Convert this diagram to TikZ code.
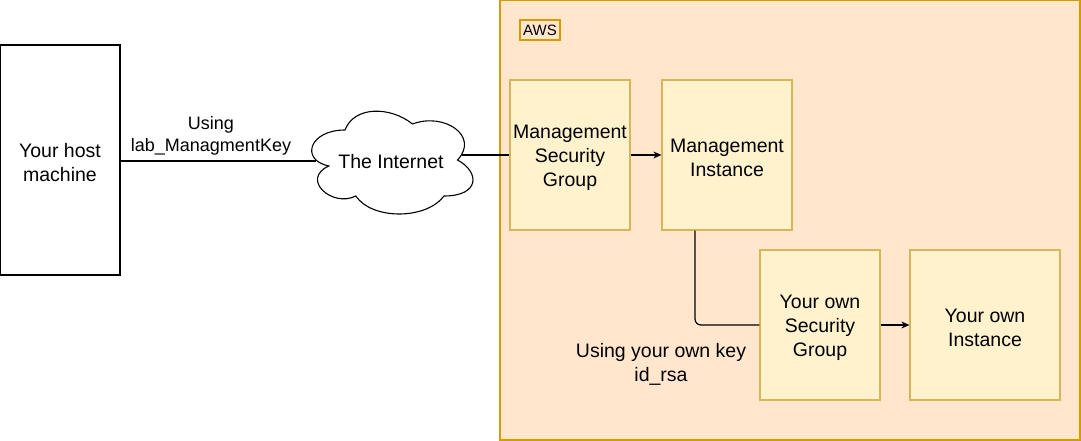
\documentclass[tikz,border=0pt]{standalone}
\usepackage{fontspec}
\setmainfont{Liberation Sans}
\usetikzlibrary{arrows.meta}
\definecolor{awsfill}{HTML}{FFE6CC}
\definecolor{awsline}{HTML}{D79B00}
\definecolor{boxfill}{HTML}{FFF2CC}
\definecolor{boxline}{HTML}{D6B656}
\begin{document}
\begin{tikzpicture}[x=1pt,y=-1pt,
  txt/.style={font=\fontsize{19.5}{24}\selectfont, align=center, inner sep=0pt},
  smalltxt/.style={font=\fontsize{18}{22}\selectfont, align=center, inner sep=0pt},
  inner/.style={label={[txt, yshift=-2.5pt]center:#1}},
  hostbox/.style={draw=black, fill=white, line width=1.2pt, inner sep=0pt},
  awsarea/.style={draw=awsline, fill=awsfill, line width=1.2pt, inner sep=0pt},
  sgbox/.style={draw=boxline, fill=boxfill, line width=1.2pt, inner sep=0pt},
  conn/.style={draw=black, line width=1.2pt},
  arr/.style={conn, -{Stealth[length=8pt,width=7pt,inset=2.5pt]}}
]
\useasboundingbox (0,0) rectangle (1081,441);
% AWS area
\node[awsarea, minimum width=580pt, minimum height=440pt] (aws) at (790,220) {};
\node[awsarea, minimum width=40pt, minimum height=20pt, font=\fontsize{15}{18}\selectfont] (awslbl) at (540,30) {AWS};
% host
\node[hostbox, minimum width=120pt, minimum height=230pt, inner={Your host\\machine}] (host) at (60,160) {};
% cloud
\draw[line width=1.1pt, fill=white]
  (345,130) .. controls (309,130) and (300,160) .. (328.8,166)
  .. controls (300,179.2) and (332.4,208) .. (355.8,196)
  .. controls (372,220) and (426,220) .. (444,196)
  .. controls (480,196) and (480,172) .. (457.5,160)
  .. controls (480,136) and (444,112) .. (412.5,124)
  .. controls (390,106) and (354,106) .. (345,130) -- cycle;
\node[txt] (cloud) at (391,162) {The Internet};
\coordinate (cloudW) at (316,161);
\coordinate (cloudE) at (462,155);
% boxes
\node[sgbox, minimum width=120pt, minimum height=150pt, inner={Management\\Security\\Group}] (msg) at (570,155) {};
\node[sgbox, minimum width=130pt, minimum height=150pt, inner={Management\\Instance}] (mi) at (727,155) {};
\node[sgbox, minimum width=120pt, minimum height=150pt, inner={Your own\\Security\\Group}] (osg) at (820,325) {};
\node[sgbox, minimum width=150pt, minimum height=150pt, inner={Your own\\Instance}] (oi) at (985,325) {};
% connectors
\draw[conn] (host.east |- cloudW) -- (cloudW);
\draw[conn] (cloudE) -- (cloudE -| msg.west);
\draw[arr] (msg.east) -- (mi.west);
\coordinate (bend) at (695,325);
\draw[conn, rounded corners=6pt] (mi.south -| bend) |- (osg.west);
\draw[arr] (osg.east) -- (oi.west);
% labels
\node[smalltxt] (lkey) at (211,135.5) {Using\\lab\_ManagmentKey};
\node[txt] (okey) at (661,364.5) {Using your own key\\id\_rsa};
\end{tikzpicture}
\end{document}
